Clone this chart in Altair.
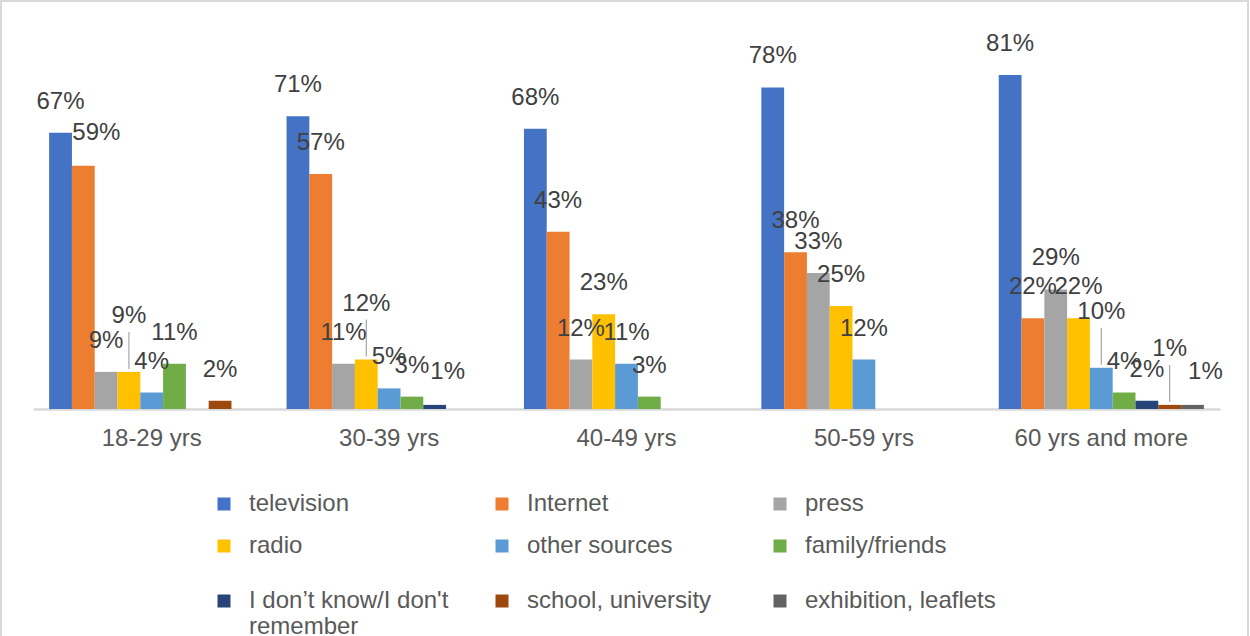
import altair as alt
import pandas as pd

groups = ["18-29 yrs", "30-39 yrs", "40-49 yrs", "50-59 yrs", "60 yrs and more"]
series = ["television", "Internet", "press", "radio", "other sources", "family/friends",
          "I don\u2019t know/I don't remember", "school, university", "exhibition, leaflets"]
television = [67, 71, 68, 78, 81]
internet = [59, 57, 43, 38, 22]
press = [9, 11, 12, 33, 29]
radio = [9, 12, 23, 25, 22]
other_sources = [4, 5, 11, 12, 10]
family_friends = [11, 3, 3, 0, 4]
dont_know = [0, 1, 0, 0, 2]
school_university = [2, 0, 0, 0, 1]
exhibition_leaflets = [0, 0, 0, 0, 1]
colors = ["#4472C4", "#ED7D31", "#A5A5A5", "#FFC000", "#5B9BD5", "#70AD47",
          "#264478", "#9E480E", "#636363"]

# labels that the original moved: lifted (with a leader line) or nudged right
lifted = [("18-29 yrs", "radio"), ("30-39 yrs", "radio"),
          ("60 yrs and more", "other sources"), ("60 yrs and more", "school, university")]
nudged = [("18-29 yrs", "Internet"), ("30-39 yrs", series[6]),
          ("60 yrs and more", "exhibition, leaflets")]

values = [television, internet, press, radio, other_sources, family_friends,
          dont_know, school_university, exhibition_leaflets]
rows = []
for s, vals in zip(series, values):
    for g, v in zip(groups, vals):
        place = "lift" if (g, s) in lifted else ("nudge" if (g, s) in nudged else "normal")
        rows.append({"group": g, "series": s, "value": v, "label": f"{v}%", "place": place})
df = pd.DataFrame(rows)

FONT = "Liberation Sans"

x = alt.X("group:N", sort=groups, title=None,
          scale=alt.Scale(paddingInner=0.136, paddingOuter=0.068),
          axis=alt.Axis(labelAngle=0, ticks=False, domainColor="#d9d9d9", domainWidth=2.5,
                        labelFontSize=24, labelColor="#595959", labelFont=FONT,
                        labelPadding=17))
xo = alt.XOffset("series:N", sort=series, scale=alt.Scale(domain=series, paddingInner=0, paddingOuter=0))
y = alt.Y("value:Q", scale=alt.Scale(domain=[0, 90]), axis=None)

bars = alt.Chart(df).mark_bar().encode(
    x=x, xOffset=xo, y=y,
    color=alt.Color("series:N", sort=series,
                    scale=alt.Scale(domain=series, range=colors),
                    legend=alt.Legend(title=None, orient="none", legendX=179, legendY=441,
                                      direction="horizontal",
                                      columns=3, gridAlign="all", columnPadding=41,
                                      rowPadding=5, symbolType="square", symbolSize=169,
                                      symbolStrokeWidth=0, labelFontSize=24,
                                      labelColor="#595959", labelFont=FONT, labelOffset=13,
                                      labelLimit=400,
                                      labelExpr="indexof(datum.label, 'remember') > 0 ? [replace(datum.label, ' remember', ''), 'remember'] : datum.label")),
)

base_text = alt.Chart(df).mark_text(
    baseline="middle", align="center", fontSize=24, color="#404040", font=FONT
)
labels_normal = base_text.transform_filter(
    "datum.value > 0 && datum.place == 'normal'").mark_text(
    baseline="middle", align="center", fontSize=24, color="#404040", font=FONT, dy=-31
).encode(x=x, xOffset=xo, y=y, text="label:N")
labels_nudge = base_text.transform_filter(
    "datum.value > 0 && datum.place == 'nudge'").mark_text(
    baseline="middle", align="center", fontSize=24, color="#404040", font=FONT, dy=-33, dx=13
).encode(x=x, xOffset=xo, y=y, text="label:N")
labels_lift = base_text.transform_filter(
    "datum.value > 0 && datum.place == 'lift'").mark_text(
    baseline="middle", align="center", fontSize=24, color="#404040", font=FONT, dy=-56
).encode(x=x, xOffset=xo, y=y, text="label:N")
leaders = alt.Chart(df).transform_filter("datum.place == 'lift'").mark_rule(
    color="#a6a6a6", strokeWidth=1.2, yOffset=-3, y2Offset=-40
).encode(x=x, xOffset=xo, y=y, y2="value:Q")

frame = alt.Chart(df).mark_rect(fill=None, stroke="#d9d9d9", strokeWidth=2).encode(
    x=alt.value(-32), x2=alt.value(1215), y=alt.value(-37), y2=alt.value(610)
).transform_filter("datum.group == '18-29 yrs' && datum.series == 'television'")

chart = alt.layer(frame, bars, leaders, labels_normal, labels_nudge, labels_lift).properties(
    width=1187, height=371,
    background="white",
    autosize=alt.AutoSizeParams(type="none"),
    padding={"left": 33, "top": 38, "right": 30, "bottom": 227},
).configure_view(stroke=None)

chart.save("out.html", embed_options={"renderer": "svg", "actions": False})
